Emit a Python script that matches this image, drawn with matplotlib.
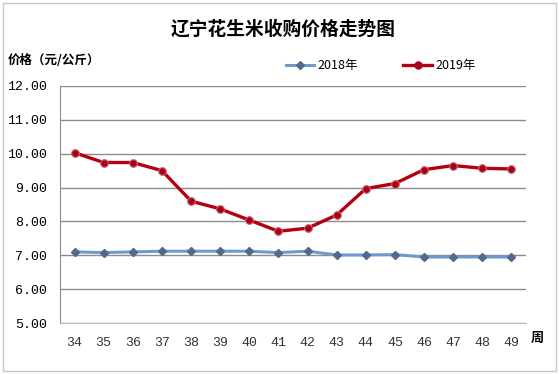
import matplotlib
matplotlib.use("Agg")
import matplotlib.pyplot as plt
from matplotlib.patches import Rectangle
from matplotlib.lines import Line2D

plt.rcParams['font.family'] = ['Noto Sans CJK SC', 'DejaVu Sans']

weeks = [34, 35, 36, 37, 38, 39, 40, 41, 42, 43, 44, 45, 46, 47, 48, 49]
price_2018 = [7.10, 7.08, 7.10, 7.12, 7.12, 7.12, 7.12, 7.08, 7.12, 7.01, 7.01, 7.02, 6.95, 6.95, 6.95, 6.95]
price_2019 = [10.03, 9.74, 9.74, 9.50, 8.60, 8.37, 8.04, 7.71, 7.80, 8.19, 8.97, 9.12, 9.53, 9.65, 9.57, 9.55]
y_ticks = [5, 6, 7, 8, 9, 10, 11, 12]
series_names = ['2018年', '2019年']
title = '辽宁花生米收购价格走势图'
y_label = '价格（元/公斤）'
x_label = '周'

W, H = 559, 374
fig = plt.figure(figsize=(W / 100, H / 100), dpi=100)
fig.patch.set_facecolor('white')
fig.add_artist(Rectangle((3 / W, 3 / H), (W - 6) / W, (H - 6) / H, transform=fig.transFigure,
                         fill=False, edgecolor='#c8c8c8', linewidth=1.0))

ax = fig.add_axes([60 / W, 1 - 323 / H, 466 / W, 237 / H])
x = list(range(len(weeks)))

c18_line, c18_mk = '#6d9ccc', '#56688a'
c19_line, c19_mk = '#b50012', '#a8001a'

ax.plot(x, price_2018, color=c18_line, lw=2.2, marker='D', ms=4.2,
        mfc=c18_mk, mec=c18_mk, zorder=3, solid_joinstyle='round')
ax.plot(x, price_2019, color=c19_line, lw=2.4, marker='o', ms=5.5,
        mfc=c19_mk, mec='#c86a6a', mew=0.8, zorder=4, solid_joinstyle='round')

ax.set_xlim(-0.5, len(weeks) - 0.5)
ax.set_ylim(5, 12)
ax.set_yticks(y_ticks)
ax.set_yticklabels([f'{v:.2f}' for v in y_ticks], fontsize=9.5, family=['Liberation Mono', 'DejaVu Sans'])
ax.set_xticks(x)
ax.set_xticklabels([str(w) for w in weeks], fontsize=9.5, family=['Liberation Mono', 'DejaVu Sans'], color='#333333')
ax.tick_params(axis='both', length=0)
ax.tick_params(axis='y', pad=9)
ax.tick_params(axis='x', pad=10)
ax.grid(axis='y', color='#8c8c8c', lw=1.0)
ax.set_axisbelow(True)
for s in ['top', 'right']:
    ax.spines[s].set_visible(False)
ax.spines['left'].set_color('#8c8c8c')
ax.spines['bottom'].set_color('#bfbfbf')

fig.text(283 / W, 1 - 29 / H, title, ha='center', va='center', fontsize=13.5, fontweight='bold')
fig.text(8 / W, 1 - 60 / H, y_label, ha='left', va='center', fontsize=9, fontweight='bold')
fig.text(537 / W, 1 - 338 / H, x_label, ha='center', va='center', fontsize=9.5, fontweight='bold')

# legend entries drawn manually
legend_y = 1 - 65 / H
entries = [(286, 314, c18_line, 'D', c18_mk, 3.8, 2.2),
           (403, 432, c19_line, 'o', c19_mk, 5.0, 2.4)]
for (x0, x1, lc, mk, mc, ms, lw), name in zip(entries, series_names):
    fig.add_artist(Line2D([x0 / W, x1 / W], [legend_y, legend_y], transform=fig.transFigure,
                          color=lc, lw=lw))
    fig.add_artist(Line2D([(x0 + x1) / 2 / W], [legend_y], transform=fig.transFigure,
                          marker=mk, ms=ms, mfc=mc, mec=mc, lw=0))
    fig.text((x1 + 3) / W, legend_y, name, ha='left', va='center', fontsize=9)

fig.savefig('out.png', dpi=100, facecolor='white')
